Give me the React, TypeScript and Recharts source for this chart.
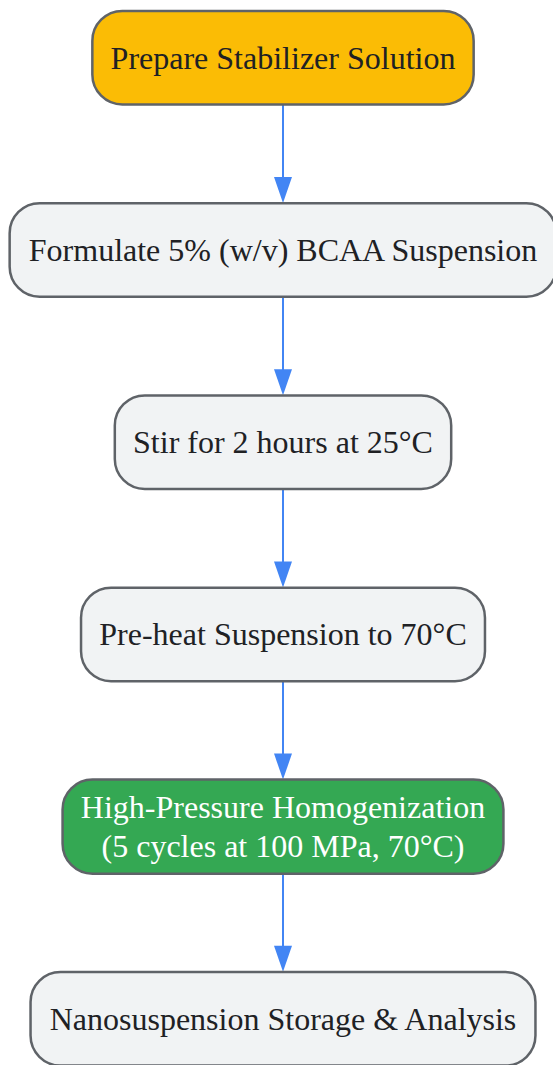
import { ScatterChart, Scatter, XAxis, YAxis } from "recharts";

// flow steps, top to bottom
const steps = [
  "Prepare Stabilizer Solution",
  "Formulate 5% (w/v) BCAA Suspension",
  "Stir for 2 hours at 25°C",
  "Pre-heat Suspension to 70°C",
  "High-Pressure Homogenization\n(5 cycles at 100 MPa, 70°C)",
  "Nanosuspension Storage & Analysis",
];
const stepKinds = ["start", "process", "process", "process", "key", "process"];

const CHART_W = 566;
const CHART_H = 1065;
const Y_MIN = -0.3;
const Y_MAX = 5.24;
const UNIT = CHART_H / (Y_MAX - Y_MIN);
const FONT_SIZE = 32;
const LINE_H = 38.4;
const BOX_H = 96;
const PAD_X = 19.5;
const FONT = '"Liberation Serif", "Times New Roman", serif';

const kindStyle: Record<string, { fill: string; text: string }> = {
  start: { fill: "#FBBC05", text: "#202124" },
  process: { fill: "#F1F3F4", text: "#202124" },
  key: { fill: "#34A853", text: "#FFFFFF" },
};

const nodeData = steps.map((label, i) => ({ x: 0, y: i, label, kind: stepKinds[i] }));
const edgeData = steps.slice(1).map((_, i) => ({ x: 0, y: i + 1 }));

let ctx: CanvasRenderingContext2D | null = null;
const measure = (s: string) => {
  if (!ctx) ctx = document.createElement("canvas").getContext("2d");
  if (!ctx) return s.length * FONT_SIZE * 0.45;
  ctx.font = `${FONT_SIZE}px "Liberation Serif"`;
  return ctx.measureText(s).width;
};

const boxHeight = (lines: number) => Math.max(BOX_H, lines * LINE_H + 20);

const NodeShape = (props: any) => {
  const { cx, cy, payload } = props;
  const lines: string[] = payload.label.split("\n");
  const w = Math.max(...lines.map(measure)) + PAD_X * 2;
  const h = boxHeight(lines.length);
  const st = kindStyle[payload.kind];
  const firstBase = cy - ((lines.length - 1) * LINE_H) / 2 + FONT_SIZE * 0.34;
  return (
    <g>
      <rect
        x={cx - w / 2 + 1.25}
        y={cy - h / 2 + 1.25}
        width={w - 2.5}
        height={h - 2.5}
        rx={30}
        ry={30}
        fill={st.fill}
        stroke="#5F6368"
        strokeWidth={2.5}
      />
      {lines.map((ln, k) => (
        <text
          key={k}
          x={cx}
          y={firstBase + k * LINE_H}
          textAnchor="middle"
          fontFamily={FONT}
          fontSize={FONT_SIZE}
          fill={st.text}
        >
          {ln}
        </text>
      ))}
    </g>
  );
};

const EdgeShape = (props: any) => {
  const { cx, cy } = props;
  const tip = cy - BOX_H / 2 + 1;
  const start = tip - (UNIT - BOX_H) - 2;
  const head = 26;
  return (
    <g>
      <line x1={cx} y1={start} x2={cx} y2={tip - head + 2} stroke="#4285F4" strokeWidth={2} />
      <polygon points={`${cx - 9},${tip - head} ${cx + 9},${tip - head} ${cx},${tip}`} fill="#4285F4" />
    </g>
  );
};

export default function App() {
  return (
    <div style={{ width: 553, height: 1065, overflow: "hidden", background: "#fff" }}>
      <style>{`body{margin:0;overflow:hidden}`}</style>
      <ScatterChart width={CHART_W} height={CHART_H} margin={{ top: 0, right: 0, bottom: 0, left: 0 }}>
        <XAxis type="number" dataKey="x" domain={[-1, 1]} hide />
        <YAxis type="number" dataKey="y" domain={[Y_MIN, Y_MAX]} reversed hide />
        <Scatter data={edgeData} shape={EdgeShape} isAnimationActive={false} />
        <Scatter data={nodeData} shape={NodeShape} isAnimationActive={false} />
      </ScatterChart>
    </div>
  );
}
